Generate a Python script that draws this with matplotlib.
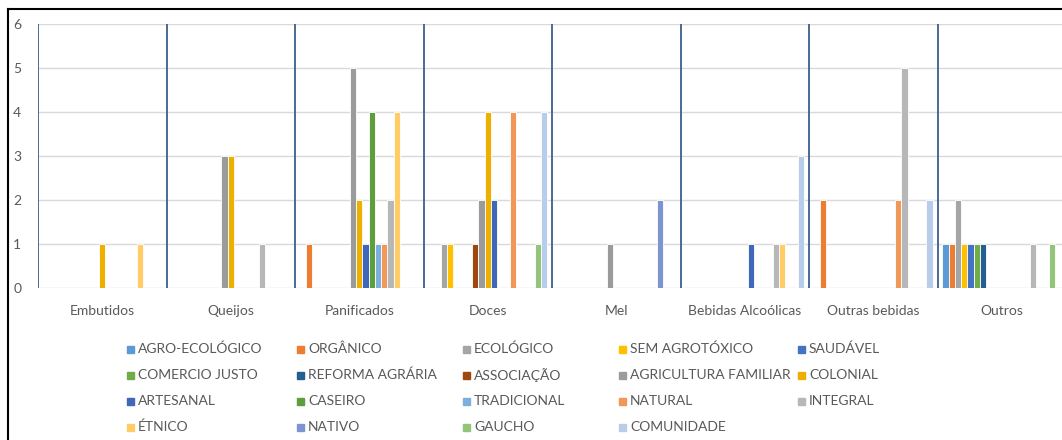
import matplotlib
matplotlib.use("Agg")
import matplotlib.pyplot as plt
import numpy as np
from matplotlib.lines import Line2D
from matplotlib.patches import Rectangle

plt.rcParams["font.family"] = ["Lato", "DejaVu Sans"]

categories = ["Embutidos", "Queijos", "Panificados", "Doces", "Mel",
              "Bebidas Alcoólicas", "Outras bebidas", "Outros"]

series_names = ["AGRO-ECOLÓGICO", "ORGÂNICO", "ECOLÓGICO", "SEM AGROTÓXICO",
                "SAUDÁVEL", "COMERCIO JUSTO", "REFORMA AGRÁRIA", "ASSOCIAÇÃO",
                "AGRICULTURA FAMILIAR", "COLONIAL", "ARTESANAL", "CASEIRO",
                "TRADICIONAL", "NATURAL", "INTEGRAL", "ÉTNICO", "NATIVO",
                "GAUCHO", "COMUNIDADE"]

colors = ["#5B9BD5", "#ED7D31", "#A5A5A5", "#FFC000", "#4472C4", "#70AD47",
          "#255E91", "#9E480E", "#9B9B9B", "#EEB000", "#4068B8", "#5E9E3C",
          "#7CAFDD", "#F1975A", "#B7B7B7", "#FFCC66", "#7C94D2", "#94C47A",
          "#B8CDE9"]

# one list per category, values in series order
embutidos   = [0, 0, 0, 0, 0, 0, 0, 0, 0, 1, 0, 0, 0, 0, 0, 1, 0, 0, 0]
queijos     = [0, 0, 0, 0, 0, 0, 0, 0, 3, 3, 0, 0, 0, 0, 1, 0, 0, 0, 0]
panificados = [0, 1, 0, 0, 0, 0, 0, 0, 5, 2, 1, 4, 1, 1, 2, 4, 0, 0, 0]
doces       = [0, 0, 1, 1, 0, 0, 0, 1, 2, 4, 2, 0, 0, 4, 0, 0, 0, 1, 4]
mel         = [0, 0, 0, 0, 0, 0, 0, 0, 1, 0, 0, 0, 0, 0, 0, 0, 2, 0, 0]
bebidas_alc = [0, 0, 0, 0, 0, 0, 0, 0, 0, 0, 1, 0, 0, 0, 1, 1, 0, 0, 3]
outras_beb  = [0, 2, 0, 0, 0, 0, 0, 0, 0, 0, 0, 0, 0, 2, 5, 0, 0, 0, 2]
outros      = [1, 1, 2, 1, 1, 1, 1, 0, 0, 0, 0, 0, 0, 0, 1, 0, 0, 1, 0]

table = np.array([embutidos, queijos, panificados, doces, mel,
                  bebidas_alc, outras_beb, outros])

fig = plt.figure(figsize=(10.62, 4.4), dpi=100)
W, H = 1062, 440
ax = fig.add_axes([38 / W, 152 / H, 1028 / W, 264 / H])

n = len(series_names)
bw = 6.25 / 128.5
x = np.arange(len(categories))
for i in range(n):
    ax.bar(x + (i - (n - 1) / 2) * bw, table[:, i], width=bw,
           color=colors[i], edgecolor="white", linewidth=0.6, zorder=3)

ax.set_xlim(-0.5, len(categories) - 0.5)
ax.set_ylim(0, 6)
ax.set_yticks(range(7))
ax.set_xticks(x)
ax.set_xticklabels(categories)
ax.tick_params(axis="both", length=0, labelsize=10, colors="#595959")
ax.tick_params(axis="y", pad=12)
ax.tick_params(axis="x", pad=12)
ax.yaxis.grid(True, color="#D9D9D9", linewidth=1.0, zorder=0)
for s in ax.spines.values():
    s.set_visible(False)
for b in np.arange(-0.5, len(categories), 1.0):
    ax.axvline(b, color="#3D5F8C", linewidth=1.3, zorder=4)

# legend, 5 columns
col_x = [131, 301, 467, 623, 802]
row_y = [349, 375, 401, 427]
for i, name in enumerate(series_names):
    cx, cy = col_x[i % 5], row_y[i // 5]
    fig.patches.append(Rectangle(((cx - 4) / W, 1 - (cy + 4) / H), 7 / W, 7 / H,
                                 transform=fig.transFigure, color=colors[i]))
    fig.text((cx + 7) / W, 1 - cy / H, name, fontsize=10, color="#595959",
             va="center", ha="left")

# outer frame (top and left edges)
fig.add_artist(Line2D([8 / W, 1], [1 - 9 / H, 1 - 9 / H], color="black",
                      linewidth=1.5, transform=fig.transFigure))
fig.add_artist(Line2D([8 / W, 8 / W], [0, 1 - 9 / H], color="black",
                      linewidth=1.5, transform=fig.transFigure))

fig.savefig("out.png", dpi=100)
